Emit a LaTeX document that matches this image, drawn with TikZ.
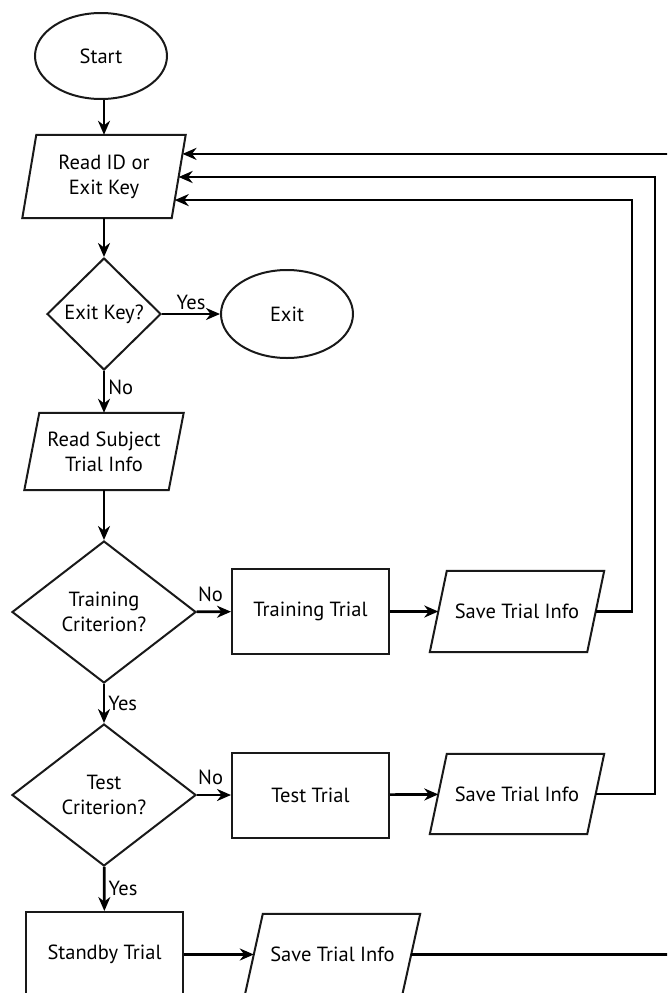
\documentclass[tikz,border=0pt]{standalone}
\usepackage{fontspec}
\setmainfont{PT Sans}
\usetikzlibrary{shapes.geometric,arrows.meta,calc}
\newcommand\drawpara[2]{\draw[shp] ([xshift=#2pt]#1.north west) -- ([xshift=#2pt]#1.north east) -- ([xshift=-#2pt]#1.south east) -- ([xshift=-#2pt]#1.south west) -- cycle;}
\begin{document}
\begin{tikzpicture}[x=1pt,y=-1pt,
  every node/.style={font=\fontsize{20.5}{25}\selectfont, text=black},
  shp/.style={draw=black!90, line width=2pt},
  term/.style={ellipse, shp, inner sep=0pt},
  dec/.style={diamond, shp, inner sep=0pt, align=center},
  proc/.style={rectangle, shp, inner sep=0pt, align=center, minimum width=157pt, minimum height=85pt},
  io/.style={rectangle, inner sep=0pt, align=center},
  conn/.style={line width=2.7pt, draw=black, -{Stealth[length=14pt,width=12pt,inset=4.5pt]}},
  lbl/.style={inner sep=3pt},
]
\useasboundingbox (0,0) rectangle (667,993);
\clip (0,0) rectangle (667,993);

\node[term, minimum width=132pt, minimum height=86pt] (start) at (101,56) {Start};
\node[io, minimum width=149pt, minimum height=83pt] (rid) at (104,176.5) {Read ID or\\Exit Key};
\node[dec, minimum width=114pt, minimum height=112pt] (exitq) at (104,314) {Exit Key?};
\node[term, minimum width=132pt, minimum height=88pt] (exit) at (287,314) {Exit};
\node[io, minimum width=144pt, minimum height=77pt] (rsub) at (104,451.5) {Read Subject\\Trial Info};
\node[dec, minimum width=184pt, minimum height=142pt] (train) at (104,612) {Training\\Criterion?};
\node[proc] (ttrial) at (310.5,611.5) {Training Trial};
\node[io, minimum width=157pt, minimum height=81pt] (save1) at (517,611.5) {Save Trial Info};
\node[dec, minimum width=184pt, minimum height=142pt] (test) at (104,795) {Test\\Criterion?};
\node[proc] (testtrial) at (310.5,795) {Test Trial};
\node[io, minimum width=157pt, minimum height=80pt] (save2) at (517,794) {Save Trial Info};
\node[proc] (standby) at (104.5,954.5) {Standby Trial};
\node[io, minimum width=157pt, minimum height=81pt] (save3) at (332.5,954.5) {Save Trial Info};

\drawpara{rid}{7}
\drawpara{rsub}{7.5}
\drawpara{save1}{8.5}
\drawpara{save2}{8.5}
\drawpara{save3}{9}

\draw[conn] (start.south -| rid.north) -- (rid.north);
\draw[conn] (rid) -- (exitq);
\draw[conn] (exitq) -- node[lbl, above] {Yes} (exit);
\draw[conn] (exitq) -- node[lbl, right, pos=0.4] {No} (rsub);
\draw[conn] (rsub) -- (train);
\draw[conn] (train) -- node[lbl, above=6pt, pos=0.4] {No} (ttrial);
\draw[conn] (ttrial) -- (save1);
\draw[conn] (train) -- node[lbl, right] {Yes} (test);
\draw[conn] (test) -- node[lbl, above=6pt, pos=0.4] {No} (testtrial);
\draw[conn] (testtrial) -- (save2);
\draw[conn] (test) -- node[lbl, right] {Yes} (standby);
\draw[conn] (standby) -- (save3);

\coordinate (ridTR) at ([xshift=7pt]rid.north east);
\coordinate (ridBR) at ([xshift=-7pt]rid.south east);
\coordinate (in1) at ($(ridTR)!0.783!(ridBR)$);
\coordinate (in2) at ($(ridTR)!0.506!(ridBR)$);
\coordinate (in3) at ($(ridTR)!0.229!(ridBR)$);
\coordinate (r1) at (632,0);
\coordinate (r2) at (655,0);
\coordinate (r3) at (700,0);
\draw[conn] (save1.east) -| (r1 |- in1) -- (in1);
\draw[conn] (save2.east) -| (r2 |- in2) -- (in2);
\draw[conn] (save3.east) -| (r3 |- in3) -- (in3);
\end{tikzpicture}
\end{document}
